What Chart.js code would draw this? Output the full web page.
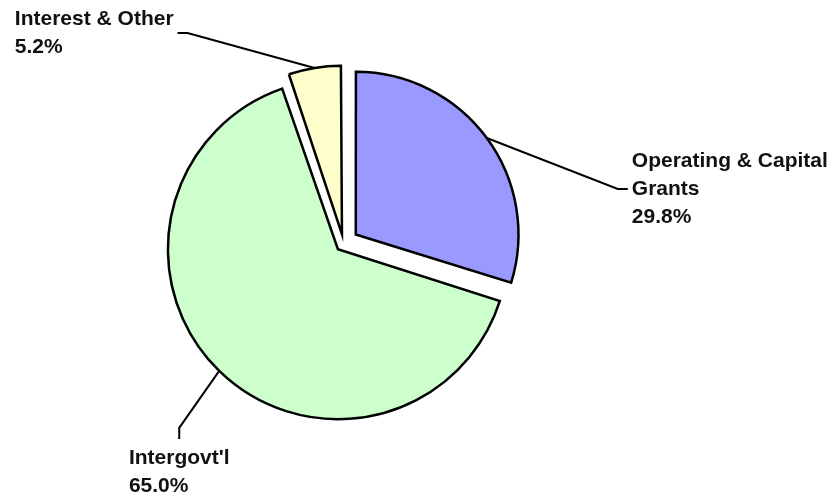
<!DOCTYPE html>
<html lang="en">
<head>
    <meta charset="UTF-8">
    <title>Revenue by Source</title>
    <script src="https://cdn.jsdelivr.net/npm/chart.js"></script>
    <style>
        body {
            margin: 0;
            background-color: #ffffff;
        }
        canvas {
            display: block;
        }
    </style>
</head>
<body>
    <canvas id="revenueChart" width="836" height="496"></canvas>
    <script>
        // revenue sources, clockwise from 12 o'clock
        const categories = ['Operating & Capital Grants', "Intergovt'l", 'Interest & Other'];
        const shares = [29.8, 65.0, 5.2];
        const labelLines = [['Operating & Capital', 'Grants'], ["Intergovt'l"], ['Interest & Other']];

        const sliceColors = ['#9999ff', '#ccffcc', '#ffffcc'];
        // chart.js scales the explode distance by slice size, so these give ~16px each
        const explode = [61, 32, 38];

        // leader line: anchor on the arc -> elbow -> short stub -> label block
        // side = where the label block sits relative to the stub end
        const callouts = [
            { elbow: [131, 51], stub: [10, 0], side: 'right' },
            { elbow: [-40, 57], stub: [0, 11], side: 'below' },
            { elbow: [-127, -35], stub: [-10, 0], side: 'left' }
        ];

        const labelFont = 'bold 21px "Liberation Sans", Arial, sans-serif';
        const lineHeight = 28;

        const calloutPlugin = {
            id: 'callouts',
            afterDatasetsDraw(chart) {
                const ctx = chart.ctx;
                const meta = chart.getDatasetMeta(0);
                ctx.save();
                ctx.strokeStyle = '#000';
                ctx.lineWidth = 2;
                ctx.fillStyle = '#111';
                ctx.font = labelFont;
                ctx.textBaseline = 'middle';
                ctx.textAlign = 'left';
                meta.data.forEach((arc, i) => {
                    const mid = (arc.startAngle + arc.endAngle) / 2;
                    const circ = arc.endAngle - arc.startAngle;
                    const off = (arc.options.offset || 0) / 4;
                    const shift = off * (2 - Math.sin(Math.min(Math.PI, circ)));
                    const px = arc.x + Math.cos(mid) * (shift + arc.outerRadius);
                    const py = arc.y + Math.sin(mid) * (shift + arc.outerRadius);
                    const c = callouts[i];
                    const ex = px + c.elbow[0];
                    const ey = py + c.elbow[1];
                    const tx = ex + c.stub[0];
                    const ty = ey + c.stub[1];

                    ctx.beginPath();
                    ctx.moveTo(px, py);
                    ctx.lineTo(ex, ey);
                    ctx.lineTo(tx, ty);
                    ctx.stroke();

                    // label lines are left aligned inside their block
                    const lines = labelLines[i].concat([shares[i].toFixed(1) + '%']);
                    const blockW = Math.max(...lines.map(t => ctx.measureText(t).width));
                    let left, y0;
                    if (c.side === 'right') {
                        left = tx + 4;
                        y0 = ty - (lines.length - 1) * lineHeight / 2;
                    } else if (c.side === 'left') {
                        left = tx - 4 - blockW;
                        y0 = ty - (lines.length - 1) * lineHeight / 2;
                    } else {
                        left = tx - blockW / 2;
                        y0 = ty + 19;
                    }
                    lines.forEach((t, k) => ctx.fillText(t, left, y0 + k * lineHeight));
                });
                ctx.restore();
            }
        };

        new Chart(document.getElementById('revenueChart'), {
            type: 'pie',
            data: {
                labels: categories,
                datasets: [{
                    data: shares,
                    backgroundColor: sliceColors,
                    borderColor: '#000000',
                    borderWidth: 2.5,
                    borderJoinStyle: 'miter',
                    offset: explode,
                    hoverOffset: 0
                }]
            },
            options: {
                responsive: false,
                animation: false,
                radius: 162,
                layout: {
                    padding: { left: 0, right: 149, top: 0, bottom: 9 }
                },
                events: [],
                plugins: {
                    legend: { display: false },
                    tooltip: { enabled: false }
                }
            },
            plugins: [calloutPlugin]
        });
    </script>
</body>
</html>
